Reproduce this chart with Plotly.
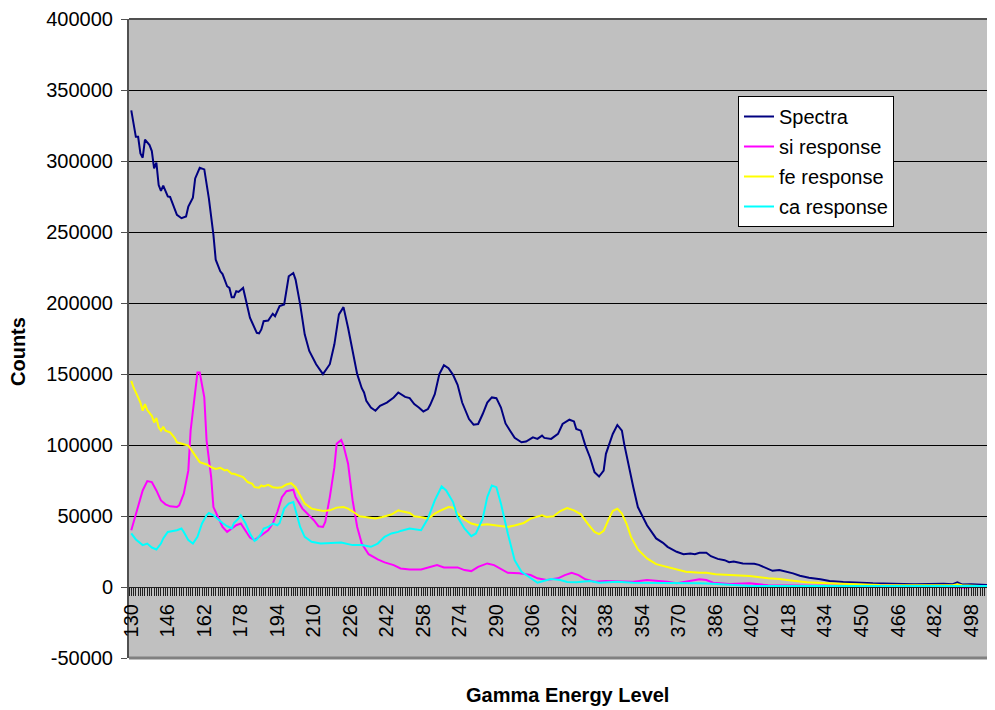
import plotly.graph_objects as go

# ---------------- data ----------------
spectra_x = [130,132,133,134,135,136,138,139,140,141,142,143,144,145,146,147,149,150,152,154,
             155,157,158,160,162,164,166,167,169,170,172,173,174,175,176,177,179,180,182,183,
             185,186,187,188,190,192,193,195,197,199,201,202,204,206,208,211,214,217,219,221,
             223,225,227,229,231,232,233,235,237,239,242,245,247,248,250,252,254,256,258,260,
             261,263,264,265,267,269,271,273,275,278,280,282,284,286,288,290,292,294,296,298,
             301,303,306,308,310,311,314,317,319,322,324,325,327,329,331,333,335,337,338,341,
             343,345,346,348,350,352,356,360,363,365,369,372,375,377,379,382,384,387,390,392,
             394,398,403,405,409,411,414,417,420,423,427,432,436,442,448,455,464,473,486,490,
             492,494,498,505,508]
spectra_y = [335700,317000,317000,305300,302300,315100,311200,307000,294800,298800,283100,278900,282600,278400,275100,274700,266700,262100,259700,260900,
             267900,274200,287700,295200,294100,273700,248000,230500,222300,220400,211800,210600,204100,204100,208300,207800,210600,203600,189600,186100,
             179000,178600,181400,187200,187700,192400,190700,197800,199000,218800,221100,216500,199000,177900,166200,156900,149900,156900,170900,192000,
             197100,182600,166200,149900,140000,137000,131100,126400,124100,127600,129900,133500,137000,135800,133900,133000,128800,126400,123600,125300,
             128300,135800,144000,149900,156200,154100,149400,142400,129900,118300,114300,114800,121800,129900,133500,133000,126400,115200,110100,105000,
             101900,102400,105400,104300,106600,105000,104300,107800,114800,117800,116600,111300,110100,99600,91400,80900,77800,82000,93800,107800,
             114100,110100,100800,84400,70300,56300,43500,34200,31100,28300,24800,23100,23600,23100,24100,24100,21700,19800,18900,17500,
             18000,16600,16300,15600,13100,11400,11900,11000,9600,7900,6500,5400,4200,3500,3000,2600,2300,1900,2300,2000,
             3300,1800,1900,1400,1200]

si_x = [130,133,135,137,139,141,143,145,147,150,151,153,155,156,158,159,160,162,163,165,
        166,168,170,172,174,176,178,180,182,184,185,187,190,192,194,196,198,201,202,205,
        207,210,212,214,215,217,219,220,222,223,225,227,229,231,234,238,241,245,248,252,
        257,260,264,267,273,276,279,282,286,289,292,295,300,305,308,312,317,320,323,326,
        329,333,338,345,350,356,360,365,369,373,379,382,385,392,401,409,429,458,487,496,
        502,508]
si_y = [40000,56300,68000,74600,73900,68000,61000,58200,56800,56300,57500,65700,82100,110100,138200,151000,151000,133500,103100,77400,
        56300,49300,42300,38800,41200,43500,44700,40000,34900,33000,34200,36500,40000,44700,52800,63300,67500,68500,63300,55200,
        52100,47000,42800,42300,45800,63300,84400,100800,103600,99600,86800,61000,42300,30600,23100,19400,17300,15400,13100,12400,
        12400,13800,15400,13800,13800,11900,11200,14200,16600,15400,12400,10000,9600,8400,6100,4900,6100,8400,10000,8400,
        5400,3700,4200,3700,3700,4900,4400,3700,2600,3700,5400,4900,3000,2100,2600,1200,900,1200,200,-600,
        700,500]

fe_x = [130,131,133,134,135,136,137,139,140,141,142,143,144,145,147,149,150,152,155,156,
        158,160,163,165,167,169,171,172,174,175,177,179,181,183,184,186,187,188,190,192,
        194,196,198,200,202,204,206,209,212,214,217,220,223,225,228,230,234,237,240,244,
        247,248,252,254,258,260,263,265,269,271,273,276,279,282,286,289,292,295,298,302,
        305,308,310,312,315,318,321,324,327,330,333,335,337,339,341,343,345,347,349,352,
        356,360,365,369,373,379,382,386,395,401,409,414,420,426,435,447,458,473,490,492,
        494,502,508]
fe_y = [145200,140500,133500,129900,124100,128800,124600,120600,115900,119000,112400,110100,112900,110100,108900,105000,101900,101200,99600,97300,
        92600,87900,86300,84400,83200,83900,82100,82500,79700,79700,78500,77400,73900,72700,70300,69900,71500,70800,72000,70300,
        69900,70300,72200,73100,70300,64500,58700,55200,54000,53500,54000,55900,56300,55200,52100,49800,48900,48200,49300,51000,
        54000,53500,52100,49800,48900,47900,51700,53500,56300,55900,51700,47500,44700,43500,44200,43500,43000,42300,43300,45100,
        48200,49300,50500,49300,49800,53500,55600,54000,51200,44700,38800,37200,39500,47000,53500,55200,51700,44700,35300,26400,
        20100,16100,14200,12400,10700,10000,10000,8900,7900,7700,6100,5600,4400,3300,2600,1900,1400,1200,1200,1900,
        1200,700,600]

ca_x = [130,132,135,137,139,141,143,144,146,148,150,152,153,155,157,159,161,163,164,166,
        168,170,172,174,175,177,178,180,182,184,185,187,188,190,192,194,195,197,199,201,
        202,204,206,209,213,217,222,227,231,235,238,241,244,247,248,252,257,260,263,266,
        268,271,273,276,279,281,284,286,288,290,292,295,298,301,305,308,311,314,318,321,
        325,331,335,343,350,359,369,379,385,401,442,508]
ca_y = [37700,33500,29500,30600,27800,26400,30600,34200,38800,39300,40000,41200,38800,33000,30600,35300,44700,50500,52100,50500,
        47500,45100,42800,41200,45100,48200,50500,45100,37700,32500,33500,37700,41200,42300,44700,43500,45100,55200,58700,59800,
        54000,42300,35300,31800,30600,31100,31300,29500,29500,28300,30600,35300,37700,38800,39500,41200,40000,48200,61000,70800,
        68000,59800,49300,41200,35800,37700,48200,63300,71500,70300,58700,37700,18900,10700,6100,3000,4400,5600,4900,3500,
        3300,4200,3000,3700,3000,3000,2600,2600,2300,700,700,700]

series_names = ["Spectra", "si response", "fe response", "ca response"]
series_colors = ["#000080", "#FF00FF", "#FFFF00", "#00FFFF"]

y_tick_vals = [-50000, 0, 50000, 100000, 150000, 200000, 250000, 300000, 350000, 400000]
y_tick_text = ["-50000", "0", "50000", "100000", "150000", "200000", "250000", "300000", "350000", "400000"]

# ---------------- figure ----------------
FONT = "Liberation Sans, Arial, sans-serif"
fig = go.Figure()
all_x = [spectra_x, si_x, fe_x, ca_x]
all_y = [spectra_y, si_y, fe_y, ca_y]
for i, (xs, ys) in enumerate(zip(all_x, all_y)):
    fig.add_trace(go.Scatter(
        x=xs, y=ys, mode="lines", name=series_names[i],
        line=dict(color=series_colors[i], width=2),
        legendgroup=series_names[i],
    ))

# the page body has an 8px margin, so the figure is drawn 8px in from the window corner
OFF = 8
W, H = 995 - OFF, 710 - OFF
ml, mr, mt = 129 - OFF, 0, 19 - OFF
mb = H - (658 - OFF)
plot_w = W - ml - mr
plot_h = H - mt - mb
y_min, y_max = -50000, 400000
zero_pos = (0 - y_min) / (y_max - y_min)


def px_x(px):
    return (px - OFF - ml) / plot_w


def px_y(py):
    return (H - mb - (py - OFF)) / plot_h


fig.update_layout(
    width=W, height=H,
    margin=dict(l=ml, r=mr, t=mt, b=mb, autoexpand=False),
    paper_bgcolor="white",
    plot_bgcolor="#C0C0C0",
    font=dict(family=FONT, size=20, color="black"),
    showlegend=True,
    legend=dict(
        x=px_x(738), y=px_y(96), xanchor="left", yanchor="top",
        bgcolor="white", bordercolor="black", borderwidth=1,
        font=dict(family=FONT, size=20, color="black"),
        tracegroupgap=1,
    ),
    xaxis=dict(
        range=[129, 508.5],
        anchor="free", position=zero_pos,
        showgrid=False, zeroline=False,
        showline=True, linecolor="#202020", linewidth=1,
        tickmode="linear", tick0=130, dtick=16,
        ticks="outside", ticklen=8, tickcolor="#202020", tickwidth=1,
        tickangle=-90,
        tickfont=dict(family=FONT, size=20, color="black"),
        minor=dict(dtick=1, tick0=130, ticks="outside", ticklen=8, tickcolor="#202020", tickwidth=1, showgrid=False),
    ),
    yaxis=dict(
        range=[y_min, y_max],
        tickmode="array", tickvals=y_tick_vals, ticktext=y_tick_text,
        showgrid=True, gridcolor="black", gridwidth=1,
        zeroline=False,
        showline=True, linecolor="#505050", linewidth=2,
        ticks="outside", ticklen=6, tickcolor="#505050",
        ticklabelstandoff=4,
        ticklabeloverflow="allow",
        tickfont=dict(family=FONT, size=20, color="black"),
    ),
    shapes=[dict(type="line", xref="paper", yref="paper", x0=0, x1=1, y0=0, y1=0,
                 line=dict(color="#808080", width=3)),
            dict(type="line", xref="paper", yref="paper", x0=0, x1=1, y0=1, y1=1,
                 line=dict(color="#505050", width=2))],
    annotations=[
        dict(text="<b>Gamma Energy Level</b>", xref="paper", yref="paper",
             x=px_x(567), y=px_y(695),
             xanchor="center", yanchor="middle", showarrow=False,
             font=dict(family=FONT, size=20, color="black")),
        dict(text="<b>Counts</b>", xref="paper", yref="paper",
             x=px_x(18), y=px_y(352),
             xanchor="center", yanchor="middle", showarrow=False, textangle=-90,
             font=dict(family=FONT, size=20, color="black")),
    ],
)

fig.write_html("out.html")
